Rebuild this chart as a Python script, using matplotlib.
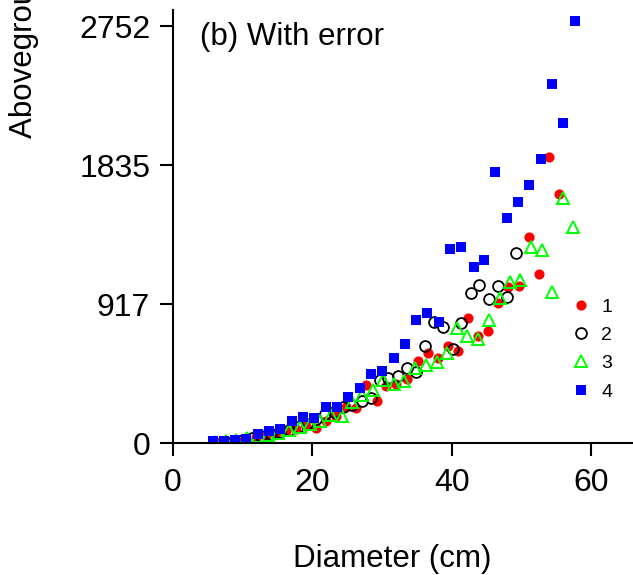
import matplotlib
matplotlib.use("Agg")
import matplotlib.pyplot as plt

plt.rcParams['font.family'] = ['Liberation Sans', 'DejaVu Sans']

# Series 1 (red filled circles)
d1 = [6.17, 7.61, 9.04, 10.48, 11.91, 13.35, 14.78, 16.22, 17.65, 19.09, 20.52, 21.96,
      23.40, 24.83, 26.27, 27.70, 29.24, 30.57, 32.01, 33.59, 35.17, 36.60, 38.04, 39.47,
      40.91, 42.34, 43.78, 45.21, 46.65, 48.08, 49.66, 51.10, 52.53, 53.97, 55.40]
b1 = [10, 15, 22, 30, 40, 52, 65, 80, 95, 112, 99, 150,
      180, 241, 231, 385, 282, 381, 391, 421, 546, 594, 561, 642,
      611, 829, 711, 743, 927, 1033, 1038, 1363, 1119, 1891, 1643]

# Series 2 (black open circles)
d2 = [7.48, 8.78, 10.09, 11.40, 12.70, 14.01, 15.32, 16.62, 17.93, 19.23, 20.54, 21.85,
      23.15, 24.46, 25.76, 27.07, 28.38, 29.71, 30.90, 32.25, 33.54, 34.84, 36.20, 37.46,
      38.80, 40.15, 41.41, 42.73, 43.96, 45.36, 46.69, 47.98, 49.23]
b2 = [8, 15, 25, 35, 48, 60, 75, 90, 110, 125, 160, 190,
      205, 241, 253, 280, 297, 418, 433, 444, 495, 472, 643, 802,
      769, 623, 796, 991, 1046, 950, 1036, 965, 1253]

# Series 3 (green open triangles)
d3 = [6.10, 7.61, 9.11, 10.62, 12.13, 13.64, 15.14, 16.65, 18.16, 19.66, 21.17, 22.68,
      24.19, 25.69, 27.20, 28.71, 30.19, 31.72, 33.20, 34.74, 36.31, 37.85, 39.29, 40.81,
      42.24, 43.78, 45.40, 46.94, 48.38, 49.81, 51.39, 52.96, 54.44, 55.94, 57.46]
b3 = [8, 15, 25, 35, 45, 55, 70, 85, 105, 125, 150, 185,
      180, 275, 320, 352, 418, 391, 411, 499, 516, 538, 598, 759,
      708, 686, 813, 960, 1063, 1077, 1295, 1273, 1000, 1621, 1425]

# Series 4 (blue filled squares)
d4 = [5.78, 7.36, 8.94, 10.52, 12.24, 13.78, 15.36, 17.12, 18.70, 20.24, 21.96, 23.58,
      25.16, 26.84, 28.46, 30.04, 31.79, 33.34, 34.92, 36.50, 38.22, 39.80, 41.38, 43.16,
      44.68, 46.26, 47.98, 49.56, 51.14, 52.86, 54.44, 56.02, 57.74]
b4 = [15, 15, 20, 28, 61, 81, 92, 145, 172, 165, 237, 237,
      303, 363, 455, 475, 561, 653, 811, 858, 802, 1280, 1293, 1161,
      1207, 1788, 1484, 1590, 1702, 1873, 2368, 2111, 2784]

xticks = [0, 20, 40, 60]
yticks = [0, 917, 1835, 2752]
series_labels = ['1', '2', '3', '4']

W, H = 633, 575
fig = plt.figure(figsize=(W / 100, H / 100), dpi=100)
left, bottom_px, top_px = 173, 443.3, 10
ax = fig.add_axes([left / W, (H - bottom_px) / H, (W - left) / W, (bottom_px - top_px) / H])
ax.set_xlim(0, 66.03)
ax.set_ylim(0, 2858)

ax.plot(d1, b1, linestyle='none', marker='o', ms=7.3, mfc='#FF0000', mec='#FF0000', mew=0, label=series_labels[0])
ax.plot(d2, b2, linestyle='none', marker='o', ms=7.8, mfc='none', mec='black', mew=1.3, label=series_labels[1])
ax.plot(d3, b3, linestyle='none', marker='^', ms=9.3, mfc='none', mec='#00FF00', mew=1.4, label=series_labels[2])
ax.plot(d4, b4, linestyle='none', marker='s', ms=7, mfc='#0000FF', mec='#0000FF', mew=0, label=series_labels[3])

for s in ['top', 'right']:
    ax.spines[s].set_visible(False)
for s in ['left', 'bottom']:
    ax.spines[s].set_linewidth(1.5)

ax.set_xticks(xticks)
ax.set_yticks(yticks)
ax.set_yticklabels([str(v) for v in yticks])
ax.tick_params(axis='both', direction='out', length=9.4, width=1.5, labelsize=23)
ax.tick_params(axis='y', pad=7)
ax.tick_params(axis='x', pad=8.5)

fig.text(392.5 / W, (H - 566.7) / H, 'Diameter (cm)', ha='center', va='baseline', fontsize=22.5)
fig.text(24 / W, (H - 138) / H, 'Aboveground biomass (kg)', rotation=90, ha='center', va='bottom', fontsize=22.5)
fig.text(200 / W, (H - 45) / H, '(b) With error', fontsize=22.5, ha='left', va='baseline')

leg = ax.legend(loc='upper left', bbox_to_anchor=(569 / W, (H - 298) / H), bbox_transform=fig.transFigure,
                frameon=False, fontsize=14, handlelength=1.2, handletextpad=0.45, labelspacing=0.55,
                borderpad=0, borderaxespad=0)

fig.savefig('out.png', dpi=100)
